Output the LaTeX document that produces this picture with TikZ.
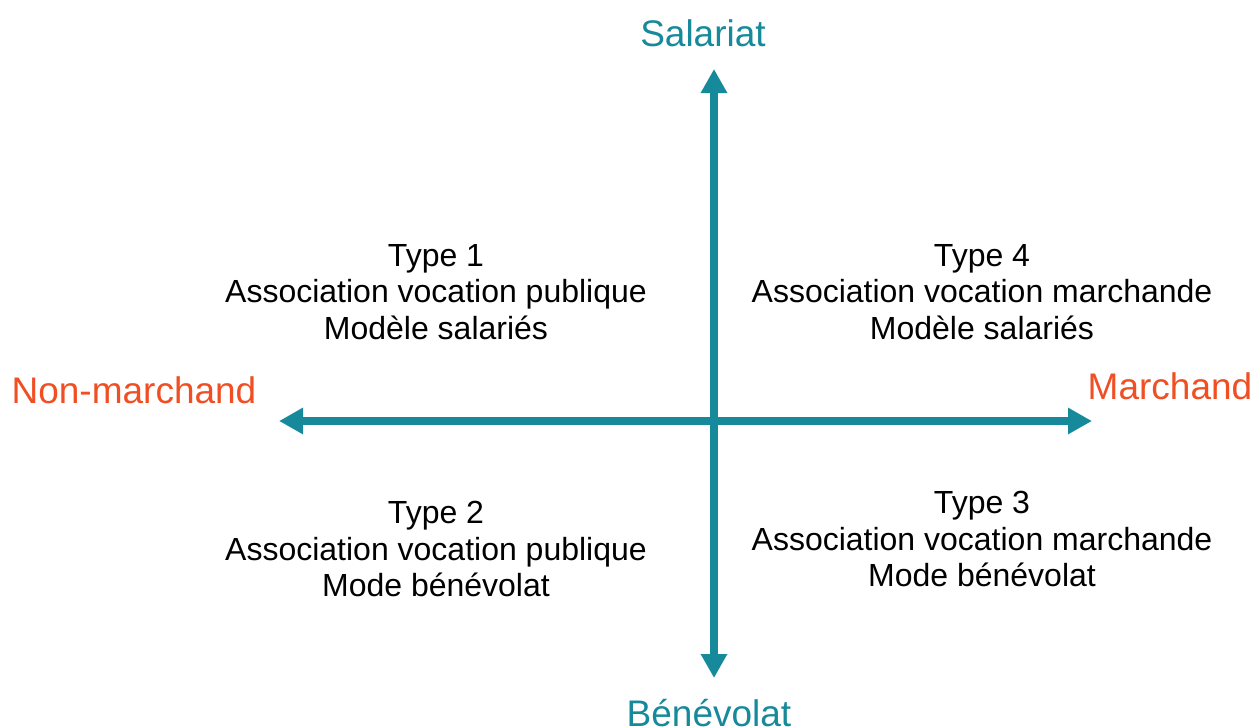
\documentclass[tikz,border=0pt]{standalone}
\usepackage{fontspec}
\setmainfont{Liberation Sans}
\usetikzlibrary{arrows.meta}
\definecolor{axisteal}{RGB}{22,137,154}
\definecolor{axisorange}{RGB}{240,78,35}
\tikzset{
  axis/.style={draw=axisteal, line width=8.5pt, {Triangle[width=25pt,length=24pt]}-{Triangle[width=25pt,length=24pt]}},
  axislabel/.style={inner sep=0pt, font=\fontsize{37}{44}\selectfont},
  quad/.style={inner sep=0pt, align=center, text=black, font=\fontsize{32}{36.5}\selectfont}
}
\begin{document}
\begin{tikzpicture}[x=1pt,y=-1pt]
\useasboundingbox (0,0) rectangle (1256,728);
\coordinate (top) at (714,69);
\coordinate (bottom) at (714,678);
\coordinate (left) at (279,421);
\coordinate (right) at (1092,421);
\draw[axis] (left) -- (right);
\draw[axis] (bottom) -- (top);
\node[axislabel, text=axisteal] (sal) at (703,33) {Salariat};
\node[axislabel, text=axisteal, text depth=0pt, anchor=base] (ben) at (709,726) {Bénévolat};
\node[axislabel, text=axisorange] (nm) at (134,390) {Non-marchand};
\node[axislabel, text=axisorange] (m) at (1170,386) {Marchand};
\node[quad] (t1) at (436,292) {Type 1\\Association vocation publique\\Modèle salariés};
\node[quad] (t4) at (982,292) {Type 4\\Association vocation marchande\\Modèle salariés};
\node[quad] (t2) at (436,549) {Type 2\\Association vocation publique\\Mode bénévolat};
\node[quad] (t3) at (982,539) {Type 3\\Association vocation marchande\\Mode bénévolat};
\end{tikzpicture}
\end{document}
